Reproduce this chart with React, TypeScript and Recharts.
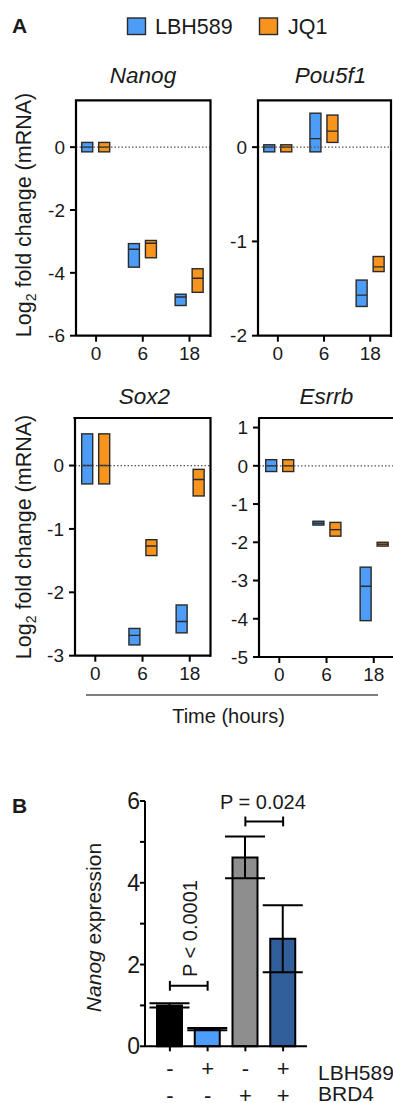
import {
  Bar,
  BarChart,
  ErrorBar,
  Cell,
  ReferenceLine,
  XAxis,
  YAxis,
} from "recharts";

const FONT = "'Liberation Sans', Arial, Helvetica, sans-serif";
const BLUE = "#4d9cf5";
const ORANGE = "#f7941e";
const EDGE = "#2a2a2a";
const INK = "#1a1a1a";

// Panel A: time points, each box is [min, mean, max] of log2 fold change
const TIMES = ["0", "6", "18"];
const X_DOMAIN: [number, number] = [-0.43, 2.45];
const NANOG_LBH = [[-0.15, 0, 0.15], [-3.82, -3.25, -3.07], [-5.04, -4.77, -4.68]];
const NANOG_JQ1 = [[-0.15, 0, 0.15], [-3.52, -3.06, -2.97], [-4.62, -4.17, -3.87]];
const POU5F1_LBH = [[-0.05, 0, 0.025], [-0.05, 0.09, 0.36], [-1.69, -1.57, -1.41]];
const POU5F1_JQ1 = [[-0.05, 0, 0.025], [0.05, 0.17, 0.34], [-1.32, -1.27, -1.16]];
const SOX2_LBH = [[-0.29, 0, 0.5], [-2.83, -2.68, -2.57], [-2.64, -2.46, -2.2]];
const SOX2_JQ1 = [[-0.29, 0, 0.5], [-1.42, -1.27, -1.17], [-0.48, -0.22, -0.06]];
const ESRRB_LBH = [[-0.15, 0, 0.16], [-1.55, -1.5, -1.45], [-4.05, -3.15, -2.65]];
const ESRRB_JQ1 = [[-0.15, 0, 0.16], [-1.84, -1.67, -1.48], [-2.1, -2.05, -2.0]];

// Panel B
const GROUPS = ["a", "b", "c", "d"];
const LBH_SIGN = ["-", "+", "-", "+"];
const BRD4_SIGN = ["-", "-", "+", "+"];
const NANOG_EXPR = [1.0, 0.42, 4.62, 2.63];
const NANOG_ERR = [0.05, 0.03, 0.51, 0.82];
const BAR_COLORS = ["#000000", "#4d9dfc", "#8e8e8e", "#315f9c"];

type Box = number[];

function rowsOf(lbh: Box[], jq1: Box[]) {
  return TIMES.map((t, i) => ({
    pos: i,
    t,
    lbh: [lbh[i][0], lbh[i][2]],
    lbhMean: lbh[i][1],
    jq1: [jq1[i][0], jq1[i][2]],
    jq1Mean: jq1[i][1],
  }));
}

// plot areas of the four small multiples
const PANELS = [
  { id: "nanog", left: 76, top: 100.3, width: 134.5, height: 235.7, domain: [-6, 1.5] as [number, number], ticks: [-6, -4, -2, 0], data: rowsOf(NANOG_LBH, NANOG_JQ1) },
  { id: "pou5f1", left: 258, top: 100.3, width: 133, height: 235.7, domain: [-2, 0.5] as [number, number], ticks: [-2, -1, 0], data: rowsOf(POU5F1_LBH, POU5F1_JQ1) },
  { id: "sox2", left: 74.5, top: 418, width: 136, height: 237.7, domain: [-3, 0.75] as [number, number], ticks: [-3, -2, -1, 0], data: rowsOf(SOX2_LBH, SOX2_JQ1) },
  { id: "esrrb", left: 259.3, top: 418, width: 136, height: 239, domain: [-5, 1.25] as [number, number], ticks: [-5, -4, -3, -2, -1, 0, 1], data: rowsOf(ESRRB_LBH, ESRRB_JQ1) },
];

// floating box (min..max) with a line at the mean
function boxShape(rangeKey: string, meanKey: string) {
  return (props: any) => {
    const { x, y, width, height, payload, fill } = props;
    if (x == null || !payload) return <g />;
    const top = height < 0 ? y + height : y;
    const h = Math.abs(height);
    const [lo, hi] = payload[rangeKey];
    const my = top + ((hi - payload[meanKey]) / (hi - lo)) * h;
    return (
      <g>
        <rect x={x} y={top} width={width} height={h} fill={fill} stroke={EDGE} strokeWidth={1.4} />
        <line x1={x} x2={x + width} y1={my} y2={my} stroke={EDGE} strokeWidth={1.4} />
      </g>
    );
  };
}

const Y_W = 45;
const M_TOP = 4;
const M_RIGHT = 4;
const X_H = 30;
const AXIS_LINE = { stroke: "#000", strokeWidth: 2.2 };

function Panel({ left, top, width, height, domain, ticks, data }: (typeof PANELS)[number]) {
  return (
    <div style={{ position: "absolute", left: left - Y_W, top: top - M_TOP }}>
      <BarChart
        width={Y_W + width + M_RIGHT}
        height={M_TOP + height + X_H}
        data={data}
        margin={{ top: M_TOP, right: M_RIGHT, bottom: 0, left: 0 }}
        barSize={11}
        barGap={6}
      >
        <XAxis
          dataKey="pos"
          type="number"
          domain={X_DOMAIN}
          ticks={[0, 1, 2]}
          interval={0}
          allowDataOverflow
          tickFormatter={(v) => TIMES[v]}
          height={X_H}
          tickSize={6}
          tickMargin={5}
          axisLine={AXIS_LINE}
          tickLine={{ stroke: "#000", strokeWidth: 2 }}
          tick={{ fontSize: 19, fill: INK, fontFamily: FONT }}
        />
        <YAxis
          type="number"
          domain={domain}
          ticks={ticks}
          interval={0}
          allowDataOverflow
          width={Y_W}
          tickSize={6}
          tickMargin={5}
          axisLine={AXIS_LINE}
          tickLine={{ stroke: "#000", strokeWidth: 2 }}
          tick={{ fontSize: 19, fill: INK, fontFamily: FONT }}
        />
        <ReferenceLine y={0} stroke="#555" strokeDasharray="1.5 2" strokeWidth={1.2} />
        <Bar dataKey="lbh" fill={BLUE} shape={boxShape("lbh", "lbhMean")} isAnimationActive={false} />
        <Bar dataKey="jq1" fill={ORANGE} shape={boxShape("jq1", "jq1Mean")} isAnimationActive={false} />
      </BarChart>
    </div>
  );
}

function EvenTick({ x, y, payload }: any) {
  if (payload.value % 2) return <g />;
  return (
    <text x={x} y={y} textAnchor="end" dominantBaseline="central" fontSize={23} fill={INK} fontFamily={FONT}>
      {payload.value}
    </text>
  );
}

function SignTick({ x, y, payload }: any) {
  const i = GROUPS.indexOf(payload.value);
  return (
    <g fontFamily={FONT} fontSize={22} fill={INK} textAnchor="middle">
      <text x={x} y={y + 15.4} dominantBaseline="central">{LBH_SIGN[i]}</text>
      <text x={x} y={y + 42.2} dominantBaseline="central">{BRD4_SIGN[i]}</text>
    </g>
  );
}

function PanelB() {
  const rows = GROUPS.map((g, i) => ({ g, v: NANOG_EXPR[i], err: NANOG_ERR[i] }));
  const left = 145;
  const top = 801;
  const w = 162;
  const h = 245.3;
  const yw = 50;
  const mt = 12;
  const xh = 57;
  const br = { stroke: "#000", strokeWidth: 2 };
  return (
    <div style={{ position: "absolute", left: left - yw, top: top - mt }}>
      <BarChart
        width={yw + w + 4}
        height={mt + h + xh}
        data={rows}
        margin={{ top: mt, right: 4, bottom: 0, left: 0 }}
        barSize={25}
      >
        <XAxis
          dataKey="g"
          padding={{ left: 6, right: 5 }}
          height={xh}
          interval={0}
          tickSize={5}
          tickMargin={2}
          axisLine={{ stroke: "#000", strokeWidth: 2 }}
          tickLine={{ stroke: "#000", strokeWidth: 2 }}
          tick={<SignTick />}
        />
        <YAxis
          type="number"
          domain={[0, 6]}
          ticks={[0, 1, 2, 3, 4, 5, 6]}
          interval={0}
          width={yw}
          tickSize={5}
          tickMargin={0}
          axisLine={{ stroke: "#000", strokeWidth: 2 }}
          tickLine={{ stroke: "#000", strokeWidth: 2 }}
          tick={<EvenTick />}
        />
        <Bar dataKey="v" stroke="#000" strokeWidth={2} isAnimationActive={false}>
          {rows.map((_, i) => (
            <Cell key={i} fill={BAR_COLORS[i]} />
          ))}
          <ErrorBar dataKey="err" width={20} stroke="#000" strokeWidth={2} isAnimationActive={false} />
        </Bar>
        {/* significance brackets */}
        <ReferenceLine segment={[{ x: "a", y: 1.48 }, { x: "b", y: 1.48 }]} {...br} />
        <ReferenceLine segment={[{ x: "a", y: 1.36 }, { x: "a", y: 1.6 }]} {...br} />
        <ReferenceLine segment={[{ x: "b", y: 1.36 }, { x: "b", y: 1.6 }]} {...br} />
        <ReferenceLine segment={[{ x: "c", y: 5.5 }, { x: "d", y: 5.5 }]} {...br} />
        <ReferenceLine segment={[{ x: "c", y: 5.38 }, { x: "c", y: 5.62 }]} {...br} />
        <ReferenceLine segment={[{ x: "d", y: 5.38 }, { x: "d", y: 5.62 }]} {...br} />
      </BarChart>
    </div>
  );
}

function Overlay() {
  const t = { fontFamily: FONT, fill: INK };
  return (
    <svg
      width={393}
      height={1103}
      style={{ position: "absolute", left: 0, top: 0, pointerEvents: "none" }}
    >
      {/* top and right sides of the box frame around each plot area */}
      {PANELS.map((p) => (
        <path
          key={p.id}
          d={`M${p.left} ${p.top}H${p.left + p.width}V${p.top + p.height}`}
          fill="none"
          stroke="#000"
          strokeWidth={2.2}
          strokeLinecap="square"
        />
      ))}
      <g {...t}>
        <text x={12} y={33} fontSize={21} fontWeight="bold">A</text>
        <rect x={127.5} y={18} width={18} height={16.5} fill={BLUE} stroke={EDGE} strokeWidth={1.4} />
        <text x={155} y={34} fontSize={21.5}>LBH589</text>
        <rect x={259.5} y={18} width={18} height={16.5} fill={ORANGE} stroke={EDGE} strokeWidth={1.4} />
        <text x={288} y={34} fontSize={21.5}>JQ1</text>

        <g fontSize={22.5} fontStyle="italic" textAnchor="middle">
          <text x={143} y={83}>Nanog</text>
          <text x={330.5} y={83}>Pou5f1</text>
          <text x={144.5} y={404}>Sox2</text>
          <text x={326.5} y={404}>Esrrb</text>
        </g>

        {[215, 537].map((cy) => (
          <text key={cy} transform={`translate(31,${cy}) rotate(-90)`} textAnchor="middle" fontSize={21.5}>
            Log<tspan fontSize={14} dy={5}>2</tspan>
            <tspan dy={-5}> fold change (mRNA)</tspan>
          </text>
        ))}

        <line x1={86} x2={378} y1={695} y2={695} stroke="#555" strokeWidth={1.5} />
        <text x={228.5} y={723} fontSize={20} textAnchor="middle">Time (hours)</text>

        <text x={12} y={813} fontSize={21} fontWeight="bold">B</text>
        <text x={220} y={809} fontSize={20}>P = 0.024</text>
        <text transform="translate(196.5,928.5) rotate(-90)" textAnchor="middle" fontSize={20}>
          {"P < 0.0001"}
        </text>
        <text transform="translate(101,927.5) rotate(-90)" textAnchor="middle" fontSize={21}>
          <tspan fontStyle="italic">Nanog</tspan> expression
        </text>
        <text x={318} y={1080} fontSize={21}>LBH589</text>
        <text x={318} y={1101} fontSize={21}>BRD4</text>
      </g>
    </svg>
  );
}

export default function App() {
  return (
    <div
      style={{
        position: "absolute",
        left: 0,
        top: 0,
        width: 393,
        height: 1103,
        overflow: "hidden",
        background: "#fff",
        fontFamily: FONT,
      }}
    >
      {PANELS.map((p) => (
        <Panel key={p.id} {...p} />
      ))}
      <PanelB />
      <Overlay />
    </div>
  );
}
